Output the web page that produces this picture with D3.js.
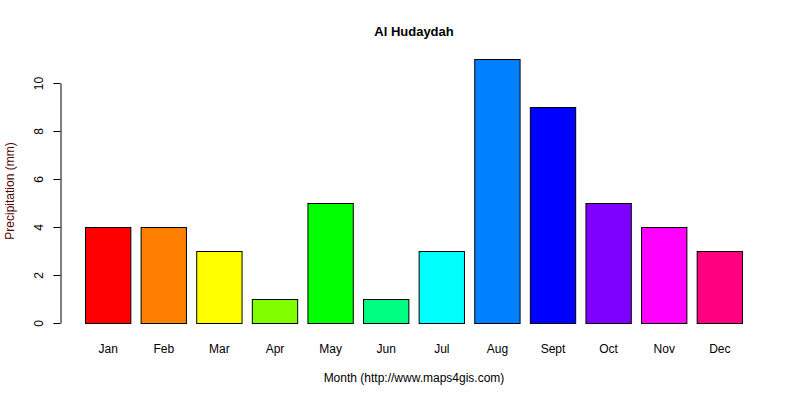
<!DOCTYPE html>
<html>
<head>
<meta charset="utf-8">
<script src="https://cdn.jsdelivr.net/npm/d3@7"></script>
<style>
  body { margin: 0; background: #fff; }
  svg { display: block; }
</style>
</head>
<body>
<script>
const months = ["Jan", "Feb", "Mar", "Apr", "May", "Jun", "Jul", "Aug", "Sept", "Oct", "Nov", "Dec"];
const precipitation = [4, 4, 3, 1, 5, 1, 3, 11, 9, 5, 4, 3];
const barColors = ["#FF0000", "#FF8000", "#FFFF00", "#80FF00", "#00FF00", "#00FF80",
                   "#00FFFF", "#0080FF", "#0000FF", "#8000FF", "#FF00FF", "#FF0080"];
const yTicks = [0, 2, 4, 6, 8, 10];

const width = 800, height = 400;

const svg = d3.select("body").append("svg")
    .attr("width", width)
    .attr("height", height)
    .attr("font-family", "Liberation Sans, Arial, sans-serif")
    .attr("font-size", 12);

const x = d3.scaleBand()
    .domain(months)
    .range([85, 743])
    .paddingInner(1 / 6)
    .paddingOuter(0);

const y = d3.scaleLinear()
    .domain([0, 10])
    .range([323, 83]);

svg.append("g")
    .selectAll("rect")
    .data(precipitation)
    .join("rect")
    .attr("x", (d, i) => x(months[i]) + 0.5)
    .attr("y", d => y(d) + 0.5)
    .attr("width", x.bandwidth() - 1)
    .attr("height", d => y(0) - y(d))
    .attr("fill", (d, i) => barColors[i])
    .attr("stroke", "#000")
    .attr("stroke-width", 1);

// y axis, R style: rotated tick labels
const yAxis = svg.append("g")
    .attr("transform", "translate(60.5,0)")
    .call(d3.axisLeft(y).tickValues(yTicks).tickSize(7).tickSizeOuter(0).tickFormat(d3.format("d")));
yAxis.select(".domain").attr("stroke", "#000");
yAxis.selectAll(".tick line").attr("stroke", "#000");
yAxis.selectAll(".tick text")
    .attr("font-family", "Liberation Sans, Arial, sans-serif")
    .attr("font-size", 12)
    .attr("fill", "#000")
    .attr("x", 0)
    .attr("dy", 0)
    .attr("text-anchor", "middle")
    .attr("transform", "translate(-18,0) rotate(-90)");

// month labels
svg.append("g")
    .selectAll("text")
    .data(months)
    .join("text")
    .attr("x", d => x(d) + x.bandwidth() / 2)
    .attr("y", 353)
    .attr("text-anchor", "middle")
    .attr("fill", "#000")
    .text(d => d);

svg.append("text")
    .attr("x", 414)
    .attr("y", 36)
    .attr("text-anchor", "middle")
    .attr("font-weight", "bold")
    .attr("font-size", 13)
    .text("Al Hudaydah");

svg.append("text")
    .attr("x", 414)
    .attr("y", 382)
    .attr("text-anchor", "middle")
    .attr("fill", "#000")
    .text("Month (http://www.maps4gis.com)");

svg.append("text")
    .attr("transform", "translate(14,191) rotate(-90)")
    .attr("text-anchor", "middle")
    .attr("fill", "#500")
    .text("Precipitation (mm)");
</script>
</body>
</html>
